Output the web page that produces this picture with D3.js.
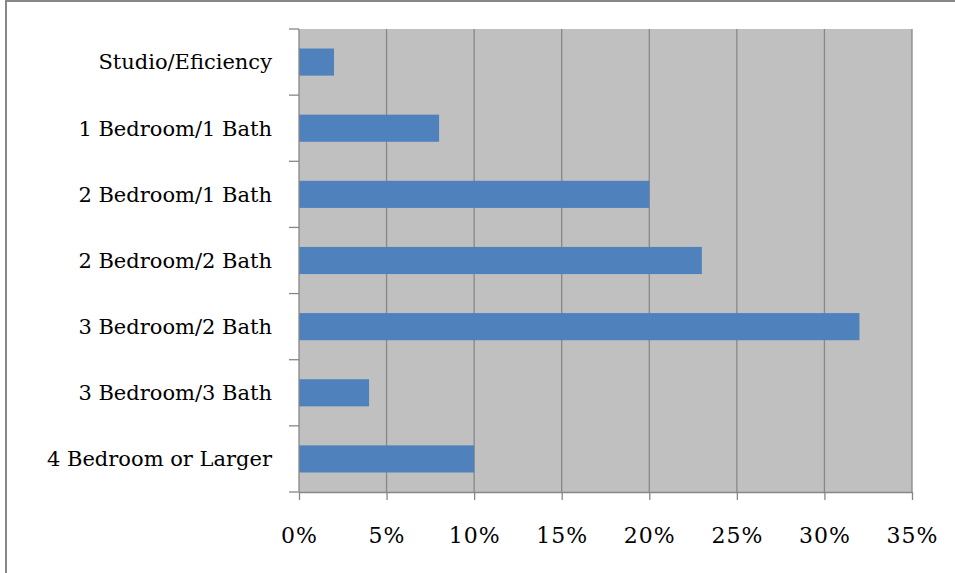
<!DOCTYPE html>
<meta charset="utf-8">
<style>
body { margin: 0; background: #fff; }
.tick text { font-family: 'DejaVu Serif', 'Liberation Serif', serif; font-size: 22px; letter-spacing: 1px; fill: #000; }
</style>
<svg width="955" height="573"></svg>
<script src="https://d3js.org/d3.v7.min.js"></script>
<script>
var categories = ["Studio/Eficiency", "1 Bedroom/1 Bath", "2 Bedroom/1 Bath", "2 Bedroom/2 Bath",
                  "3 Bedroom/2 Bath", "3 Bedroom/3 Bath", "4 Bedroom or Larger"];
var values = [2, 8, 20, 23, 32, 4, 10];
var xTicks = [0, 5, 10, 15, 20, 25, 30, 35];

var svg = d3.select("svg"),
    margin = { top: 29, right: 43, bottom: 81, left: 299 },
    width = +svg.attr("width") - margin.left - margin.right,
    height = +svg.attr("height") - margin.top - margin.bottom;

// outer chart border (only top/left visible in the crop)
svg.append("rect")
    .attr("x", 6).attr("y", 1)
    .attr("width", 1000).attr("height", 1000)
    .attr("fill", "none")
    .attr("stroke", "#888").attr("stroke-width", 2);

var g = svg.append("g").attr("transform", "translate(" + margin.left + "," + margin.top + ")");

var x = d3.scaleLinear().domain([0, 35]).range([0, width]);
var y = d3.scaleBand().domain(categories).range([0, height]).paddingInner(0.59).paddingOuter(0.295);

g.append("rect")
    .attr("width", width).attr("height", height)
    .attr("fill", "#c0c0c0");

// gridlines
g.append("g").selectAll("line")
    .data(xTicks.slice(1))
    .join("line")
    .attr("x1", d => x(d)).attr("x2", d => x(d))
    .attr("y1", 0).attr("y2", height)
    .attr("stroke", "#878787").attr("stroke-width", 1.3);

g.append("g").selectAll("rect")
    .data(values)
    .join("rect")
    .attr("x", 0)
    .attr("y", (d, i) => y(categories[i]))
    .attr("width", d => x(d))
    .attr("height", y.bandwidth())
    .attr("fill", "#4f81bd");

// x axis
var xAxis = g.append("g")
    .attr("transform", "translate(0," + height + ")")
    .call(d3.axisBottom(x).tickValues(xTicks).tickFormat(d => d + "%").tickSize(8).tickPadding(27).tickSizeOuter(0));
xAxis.select(".domain").attr("stroke", "#878787").attr("stroke-width", 1.3);
xAxis.selectAll(".tick line").attr("stroke", "#878787").attr("stroke-width", 1.3);

// y axis: ticks at band boundaries
var step = height / categories.length;
var yAxis = g.append("g");
yAxis.append("line")
    .attr("x1", 0).attr("x2", 0).attr("y1", 0).attr("y2", height)
    .attr("stroke", "#878787").attr("stroke-width", 1.3);
yAxis.selectAll(".bt")
    .data(d3.range(categories.length + 1))
    .join("line")
    .attr("class", "bt")
    .attr("x1", -10).attr("x2", 0)
    .attr("y1", d => d * step).attr("y2", d => d * step)
    .attr("stroke", "#878787").attr("stroke-width", 1.3);
yAxis.selectAll(".lbl")
    .data(categories)
    .join("text")
    .attr("class", "lbl")
    .attr("x", -27)
    .attr("y", d => y(d) + y.bandwidth() / 2)
    .attr("dy", "0.35em")
    .attr("text-anchor", "end")
    .style("font-family", "'DejaVu Serif', 'Liberation Serif', serif")
    .style("font-size", "21px")
    .text(d => d);
</script>
